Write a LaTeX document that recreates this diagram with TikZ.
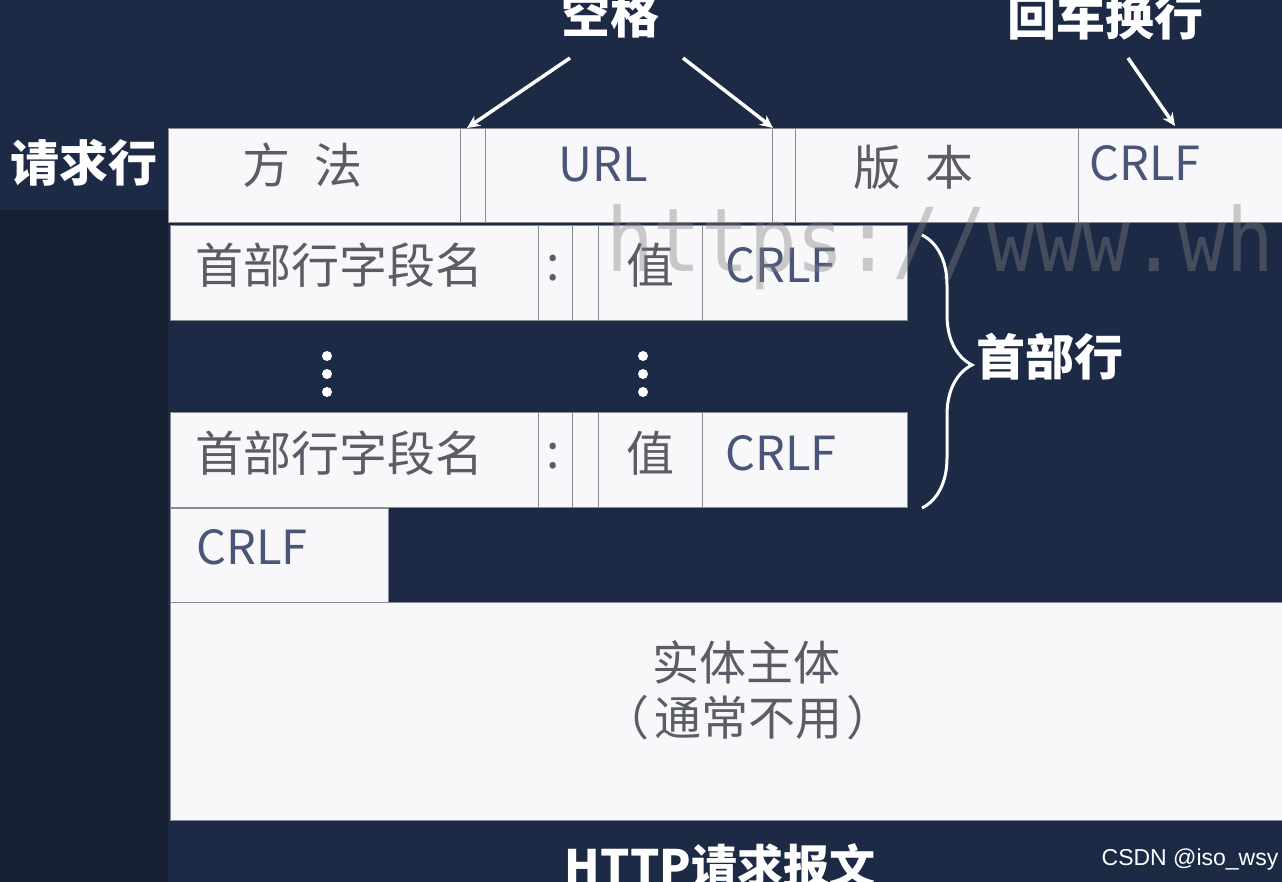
\documentclass[tikz,border=0pt]{standalone}
\usepackage{fontspec}
\setmainfont{Noto Sans CJK SC}
\newfontfamily\cjkfont{Noto Sans CJK SC}
\newfontfamily\wmfont{DejaVu Sans Mono}
\newfontfamily\csdnfont{Liberation Sans}
\usetikzlibrary{arrows.meta,decorations.pathreplacing}
\definecolor{bgcol}{HTML}{1D2A46}
\definecolor{leftcol}{HTML}{171F33}
\definecolor{boxfill}{HTML}{F8F8FA}
\definecolor{boxline}{HTML}{8A8C94}
\definecolor{celltext}{HTML}{5A5C66}
\definecolor{crlftext}{HTML}{4A5679}
\newcommand\cellsize{\fontsize{48}{56}\selectfont}
\newcommand\crlfsize{\fontsize{47}{56}\selectfont}
\newcommand\labsize{\fontsize{49}{56}\selectfont}
\tikzset{
  cell/.style={draw=boxline, line width=1.2pt, fill=boxfill, anchor=north west, inner sep=0pt},
  ctext/.style={text=celltext, font=\cjkfont\cellsize, inner sep=0pt},
  crlf/.style={text=crlftext, font=\cjkfont\crlfsize, inner sep=0pt},
  wlabel/.style={text=white, font=\cjkfont\bfseries\labsize, inner sep=0pt},
  arr/.style={draw=white, line width=3.5pt, -{Stealth[length=13pt,width=12pt]}},
  dotw/.style={fill=white, circle, inner sep=0pt, minimum size=10pt}
}
\begin{document}
\begin{tikzpicture}[x=1pt,y=-1pt]
\useasboundingbox (0,0) rectangle (1282,882);
\fill[bgcol] (0,0) rectangle (1282,882);
\fill[leftcol] (0,210) rectangle (168,882);

% request line
\node[cell, minimum width=292pt, minimum height=94pt] (m) at (168,128) {};
\node[cell, minimum width=25pt, minimum height=94pt] (g1) at (460,128) {};
\node[cell, minimum width=287pt, minimum height=94pt] (u) at (485,128) {};
\node[cell, minimum width=23pt, minimum height=94pt] (g2) at (772,128) {};
\node[cell, minimum width=283pt, minimum height=94pt] (v) at (795,128) {};
\node[cell, minimum width=230pt, minimum height=94pt] (c0) at (1078,128) {};
\node[ctext] (mt) at (302,165) {方\hspace{0.5em}法};
\node[crlf] (ut) at (603,165) {URL};
\node[ctext] (vt) at (913,167) {版\hspace{0.5em}本};
\node[crlf] (c0t) at (1145,163) {CRLF};

% header line 1
\node[cell, minimum width=368pt, minimum height=95pt] (h1n) at (170,225) {};
\node[cell, minimum width=34pt, minimum height=95pt] (h1c) at (538,225) {};
\node[cell, minimum width=26pt, minimum height=95pt] (h1g) at (572,225) {};
\node[cell, minimum width=104pt, minimum height=95pt] (h1v) at (598,225) {};
\node[cell, minimum width=205pt, minimum height=95pt] (h1r) at (702,225) {};
\node[ctext] (h1nt) at (339,265) {首部行字段名};
\node[ctext] (h1ct) at (553,268) {:};
\node[ctext] (h1vt) at (650,265) {值};
\node[crlf] (h1rt) at (781,265) {CRLF};

% dots
\foreach \yy in {356,374,392} {
  \node[dotw] at (327,\yy) {};
  \node[dotw] at (643,\yy) {};
}

% header line 2
\node[cell, minimum width=368pt, minimum height=95pt] (h2n) at (170,412) {};
\node[cell, minimum width=34pt, minimum height=95pt] (h2c) at (538,412) {};
\node[cell, minimum width=26pt, minimum height=95pt] (h2g) at (572,412) {};
\node[cell, minimum width=104pt, minimum height=95pt] (h2v) at (598,412) {};
\node[cell, minimum width=205pt, minimum height=95pt] (h2r) at (702,412) {};
\node[ctext] (h2nt) at (339,453) {首部行字段名};
\node[ctext] (h2ct) at (553,456) {:};
\node[ctext] (h2vt) at (650,453) {值};
\node[crlf] (h2rt) at (781,453) {CRLF};

% empty line CRLF
\node[cell, minimum width=218pt, minimum height=95pt] (cr) at (170,508) {};
\node[crlf] (crt) at (252,547) {CRLF};

% entity body
\node[cell, minimum width=1130pt, minimum height=218pt] (body) at (170,602) {};
\node[ctext, font=\cjkfont\fontsize{47}{54}\selectfont] (bt1) at (746,662) {实体主体};
\node[ctext, font=\cjkfont\fontsize{47}{54}\selectfont] (bt2) at (748,718) {（\hspace{0.1em}通常不用\hspace{0.1em}）};

% watermark
\node[text=gray, opacity=0.4, font=\wmfont\fontsize{88}{90}\selectfont, anchor=west, inner sep=0pt, xscale=0.9] (wm) at (606,247) {https://www.wh};

% labels
\node[wlabel] (rq) at (84,163) {请求行};
\node[wlabel] (kg) at (610,15) {空格};
\node[wlabel] (hc) at (1105,17) {回车换行};
\node[wlabel] (hd) at (1050,357) {首部行};
\node[wlabel, font=\cjkfont\bfseries\fontsize{46}{52}\selectfont] (title) at (720,866) {HTTP请求报文};
\node[text=white, font=\csdnfont\fontsize{23}{26}\selectfont, inner sep=0pt] (csdn) at (1190,860) {CSDN @iso\_wsy};

% arrows
\coordinate (a1) at (570,58);
\coordinate (a2) at (683,58);
\coordinate (a3) at (1128,58);
\coordinate (t1) at (467,128);
\coordinate (t2) at (773,128);
\coordinate (t3) at (1175,126);
\draw[arr] (a1) -- (t1);
\draw[arr] (a2) -- (t2);
\draw[arr] (a3) -- (t3);

% brace
\coordinate (bTop) at (922,235);
\coordinate (bBot) at (922,508);
\draw[white, line width=3pt, decorate, decoration={brace, amplitude=50pt, aspect=0.476}] (bTop) -- (bBot);
\end{tikzpicture}
\end{document}
